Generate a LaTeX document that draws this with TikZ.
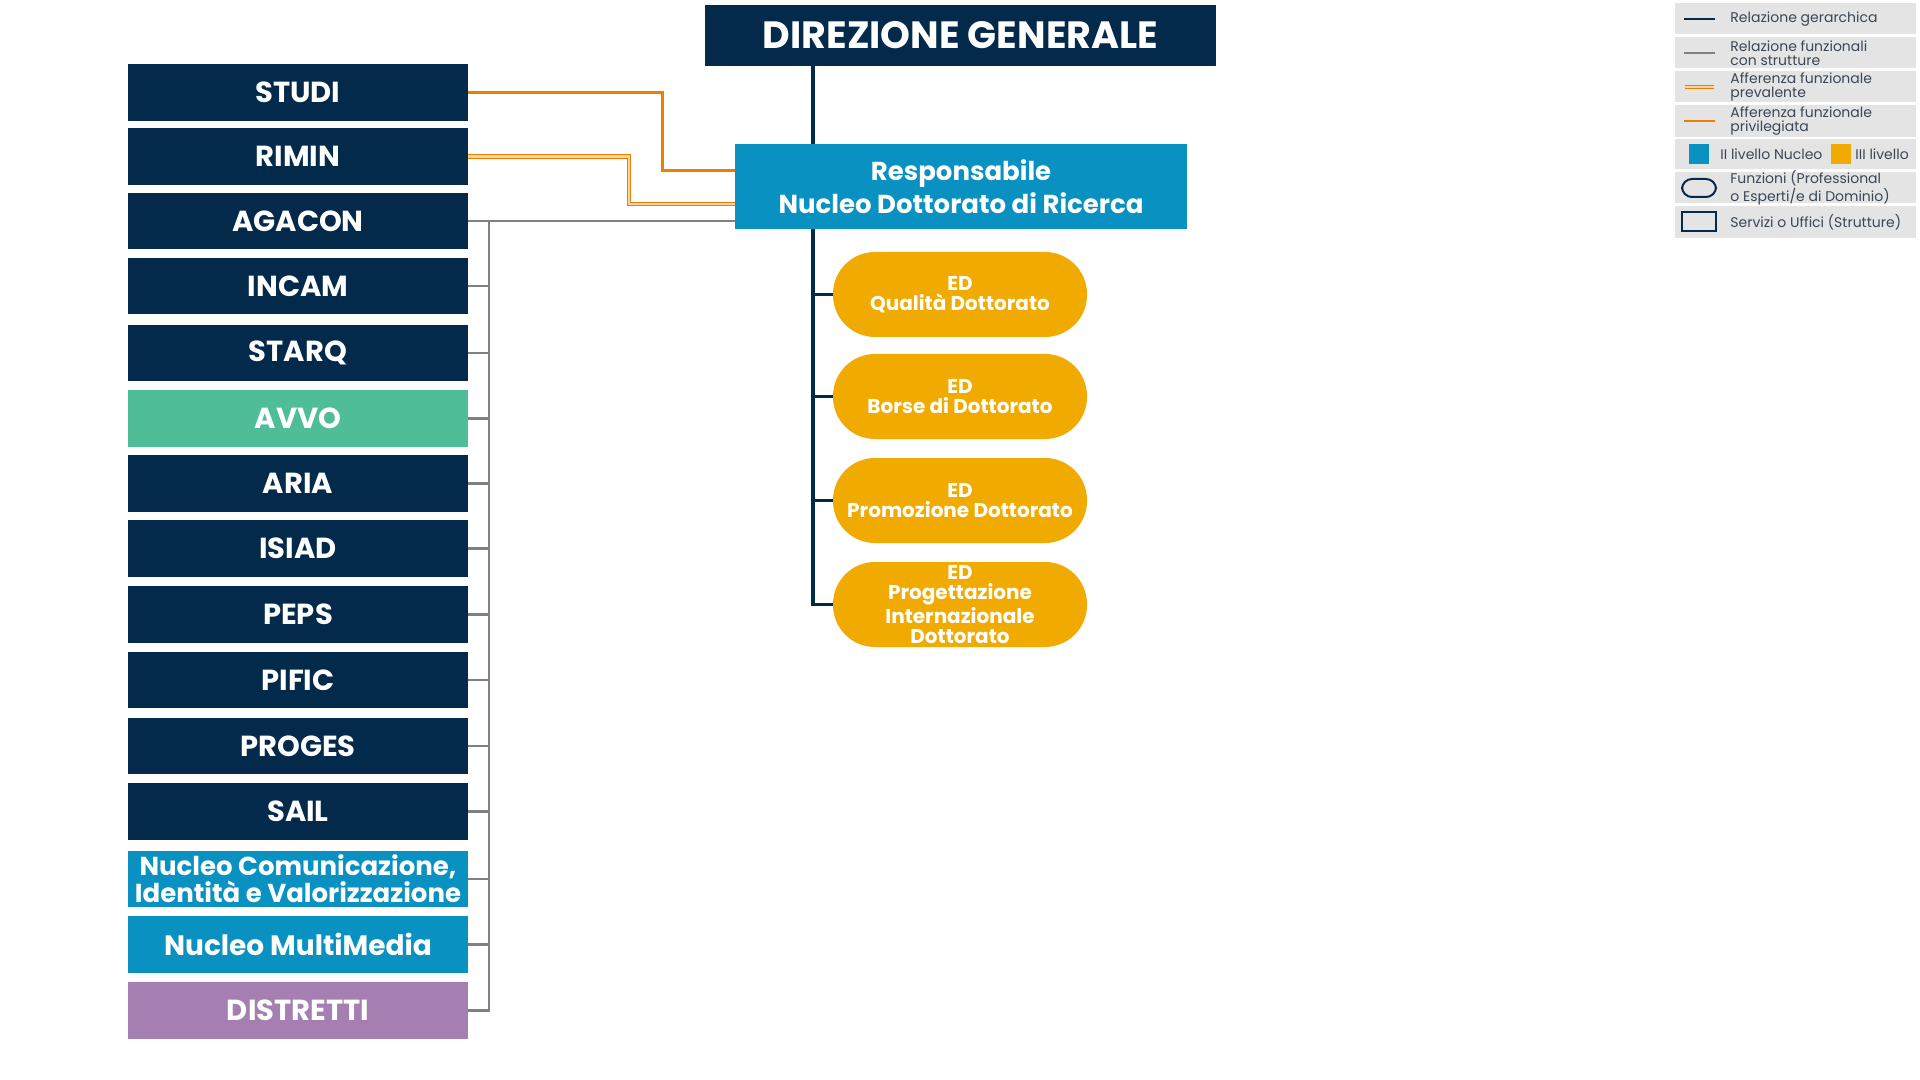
\documentclass[tikz,border=0pt]{standalone}
\usepackage{fontspec}
\setmainfont{Poppins}
\definecolor{navy}{HTML}{03294B}
\definecolor{nblue}{HTML}{0891C1}
\definecolor{pillor}{HTML}{F1AA00}
\definecolor{avvo}{HTML}{4FBE98}
\definecolor{purp}{HTML}{A57FB2}
\definecolor{oline}{HTML}{EF7D00}
\definecolor{opale}{HTML}{F9D2A6}
\definecolor{gline}{HTML}{808080}
\definecolor{legbg}{HTML}{E4E4E4}
\definecolor{legtx}{HTML}{3B4756}
\begin{document}
\begin{tikzpicture}[x=0.5pt,y=-0.5pt,
  unitbox/.style={rectangle, fill=navy, text=white, minimum width=170pt, minimum height=28.25pt,
    inner sep=0pt, align=center, font=\fontsize{14.5}{14.5}\selectfont\bfseries},
  nucleobox/.style={unitbox, fill=nblue, font=\fontsize{14}{14}\selectfont\bfseries},
  dgbox/.style={rectangle, fill=navy, text=white, minimum width=255.5pt, minimum height=30.5pt,
    inner sep=0pt, font=\fontsize{19}{19}\selectfont\bfseries},
  respbox/.style={rectangle, fill=nblue, text=white, minimum width=226pt, minimum height=42.5pt,
    inner sep=0pt, align=center, font=\fontsize{13}{16.5}\selectfont\bfseries},
  pill/.style={rectangle, rounded corners=21pt, fill=pillor, text=white, minimum width=127pt,
    minimum height=42.5pt, inner sep=0pt, align=center, font=\fontsize{10}{10.2}\selectfont\bfseries},
  hier/.style={draw=navy, line width=1.6pt},
  funcl/.style={draw=gline, line width=1.4pt},
  privl/.style={draw=oline, line width=1.5pt},
  prevl/.style={draw=oline, line width=0.6pt, double=opale, double distance=1.2pt},
  legrow/.style={rectangle, fill=legbg, minimum width=120.5pt, inner sep=0pt},
  legtext/.style={anchor=west, inner sep=0pt, align=left, text=legtx, font=\fontsize{7}{7}\selectfont}
]
\useasboundingbox (0,0) rectangle (1920,1080);

% top
\node[dgbox] (dg) at (960.5,35.5) {DIREZIONE GENERALE};
\node[respbox] (resp) at (961,186.5) {Responsabile\\Nucleo Dottorato di Ricerca};

\node[pill] (p1) at (960,294.5) {ED\\Qualità Dottorato};
\node[pill] (p2) at (960,396.5) {ED\\Borse di Dottorato};
\node[pill] (p3) at (960,500.5) {ED\\Promozione Dottorato};
\node[pill] (p4) at (960,604.5) {ED\\Progettazione\\Internazionale\\Dottorato};

% left column
\node[unitbox] (studi) at (298,92.5) {STUDI};
\node[unitbox] (rimin) at (298,156.5) {RIMIN};
\node[unitbox] (agacon) at (298,221) {AGACON};
\node[unitbox] (incam) at (298,286) {INCAM};
\node[unitbox] (starq) at (298,353) {STARQ};
\node[unitbox, fill=avvo] (avvo) at (298,418.5) {AVVO};
\node[unitbox] (aria) at (298,483.5) {ARIA};
\node[unitbox] (isiad) at (298,548.5) {ISIAD};
\node[unitbox] (peps) at (298,614.5) {PEPS};
\node[unitbox] (pific) at (298,680) {PIFIC};
\node[unitbox] (proges) at (298,746) {PROGES};
\node[unitbox] (sail) at (298,811.5) {SAIL};
\node[nucleobox, font=\fontsize{13}{11.5}\selectfont\bfseries] (ncom) at (298,879) {Nucleo Comunicazione,\\Identità e Valorizzazione};
\node[nucleobox] (nmm) at (298,944.5) {Nucleo MultiMedia};
\node[unitbox, fill=purp] (distr) at (298,1010.5) {DISTRETTI};

% hierarchy
\coordinate (htr) at (813,67);
\draw[hier] (dg.south -| htr) -- (resp.north -| htr);
\draw[hier] (resp.south -| htr) |- (p4.west);
\foreach \p in {p1,p2,p3}{\draw[hier] (\p.west -| htr) -- (\p.west);}

% functional (gray)
\coordinate (gtr) at (489,221);
\draw[funcl] (agacon.east) -- (agacon.east -| resp.west);
\draw[funcl] (gtr) |- (distr.east);
\foreach \b in {incam,starq,avvo,aria,isiad,peps,pific,proges,sail,ncom,nmm}{\draw[funcl] (\b.east) -- (\b.east -| gtr);}

% orange
\coordinate (sk) at (662,171);
\draw[privl] (studi.east) -| (sk) -- (sk -| resp.west);
\coordinate (rk) at (629,204);
\draw[prevl] (rimin.east) -| (rk) -- (rk -| resp.west);

% legend
\node[legrow, minimum height=15.5pt] (l1) at (1795.5,18.5) {};
\node[legrow, minimum height=15.5pt] (l2) at (1795.5,52.5) {};
\node[legrow, minimum height=15.5pt] (l3) at (1795.5,86.5) {};
\node[legrow, minimum height=16pt] (l4) at (1795.5,121) {};
\node[legrow, minimum height=15pt] (l5) at (1795.5,154) {};
\node[legrow, minimum height=15.5pt] (l6) at (1795.5,187.5) {};
\node[legrow, minimum height=16pt] (l7) at (1795.5,222) {};

\draw[hier, line width=1.4pt] (1684,19) -- (1715,19);
\draw[funcl] (1684,53) -- (1715,53);
\draw[prevl] (1685,87) -- (1714,87);
\draw[privl, line width=1.3pt] (1684,121) -- (1715,121);
\node[legtext] (t1) at (1730,19) {Relazione gerarchica};
\node[legtext] (t2) at (1730,53) {Relazione funzionali\\con strutture};
\node[legtext] (t3) at (1730,87) {Afferenza funzionale\\prevalente};
\node[legtext] (t4) at (1730,121) {Afferenza funzionale\\privilegiata};
\node[rectangle, fill=nblue, minimum size=10pt, inner sep=0pt] (sq1) at (1699,154) {};
\node[legtext] (t5) at (1720,154) {II livello Nucleo};
\node[rectangle, fill=pillor, minimum size=10pt, inner sep=0pt] (sq2) at (1840.5,154) {};
\node[legtext] (t6) at (1855,154) {III livello};
\node[rectangle, rounded corners=5pt, draw=navy, line width=1pt, minimum width=17pt, minimum height=9pt, inner sep=0pt] (ic6) at (1699,188) {};
\node[legtext] (t7) at (1730,188) {Funzioni (Professional\\o Esperti/e di Dominio)};
\node[rectangle, draw=navy, line width=1pt, minimum width=17pt, minimum height=9.5pt, inner sep=0pt] (ic7) at (1699,222) {};
\node[legtext] (t8) at (1730,222) {Servizi o Uffici (Strutture)};
\end{tikzpicture}
\end{document}
